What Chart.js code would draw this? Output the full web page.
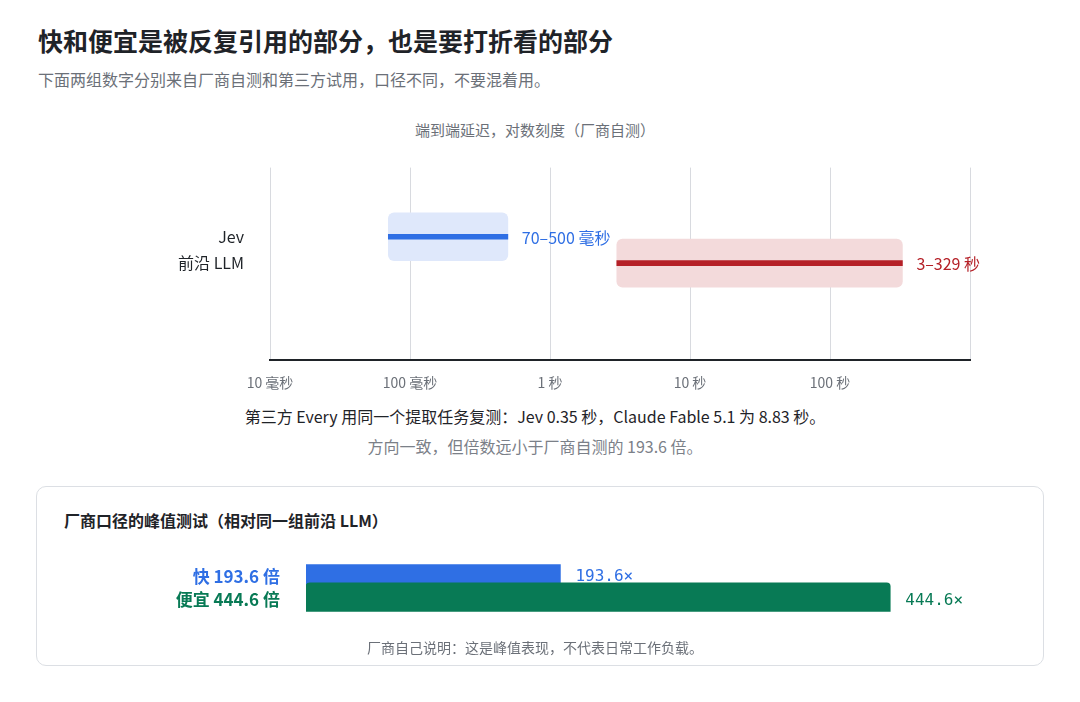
<!DOCTYPE html>
<html><head><meta charset="utf-8">
<script src="https://cdn.jsdelivr.net/npm/chart.js@4/dist/chart.umd.min.js"></script>
<style>
body{margin:0;width:1080px;height:702px;background:#fff;font-family:"Noto Sans CJK SC","Noto Sans",sans-serif;position:relative;overflow:hidden}
.t{position:absolute;white-space:nowrap}
#c1{position:absolute;left:0;top:140px}
#c2{position:absolute;left:0;top:536px}
.card{position:absolute;left:36px;top:486px;width:1006px;height:178px;border:1.5px solid #dcdfe4;border-radius:10px}
</style></head><body>
<div class="t" style="left:38px;top:22px;font-size:25px;font-weight:700;color:#1f2328">快和便宜是被反复引用的部分，也是要打折看的部分</div>
<div class="t" style="left:38px;top:67px;font-size:16px;color:#6b7078">下面两组数字分别来自厂商自测和第三方试用，口径不同，不要混着用。</div>
<div class="t" style="left:0;width:1070px;text-align:center;top:119px;font-size:15px;color:#6b7078">端到端延迟，对数刻度（厂商自测）</div>
<canvas id="c1" width="1080" height="260"></canvas>
<div class="t" style="left:0;width:1070px;text-align:center;top:404px;font-size:16px;color:#1f2328">第三方 Every 用同一个提取任务复测：Jev 0.35 秒，Claude Fable 5.1 为 8.83 秒。</div>
<div class="t" style="left:0;width:1070px;text-align:center;top:434px;font-size:16px;color:#7b8088">方向一致，但倍数远小于厂商自测的 193.6 倍。</div>
<div class="card"></div>
<div class="t" style="left:64px;top:508px;font-size:16px;font-weight:700;color:#1f2328">厂商口径的峰值测试（相对同一组前沿 LLM）</div>
<canvas id="c2" width="1080" height="104"></canvas>
<div class="t" style="left:0;width:1070px;text-align:center;top:637px;font-size:14px;color:#6b7078">厂商自己说明：这是峰值表现，不代表日常工作负载。</div>
<script>
// 延迟（秒）
const latencyRows = ["Jev", "前沿 LLM"];
const latencyMin = [0.07, 3];
const latencyMax = [0.5, 329];
const latencyLabels = ["70–500 毫秒", "3–329 秒"];
const latencyTicks = {0.01: "10 毫秒", 0.1: "100 毫秒", 1: "1 秒", 10: "10 秒", 100: "100 秒"};
// 峰值倍数
const speedRows = ["快 193.6 倍", "便宜 444.6 倍"];
const speedValues = [193.6, 444.6];

const lineColors = ["#2f6fe4", "#b52027"];
const bandColors = ["#dfe8fb", "#f3dadb"];
const barColors = ["#2f6fe4", "#087a55"];

const rangeData = latencyRows.map((r, i) => ({y: i + 1, x: [latencyMin[i], latencyMax[i]]}));

new Chart(document.getElementById("c1"), {
    type: "bar",
    data: {
        datasets: [
            {data: rangeData, backgroundColor: bandColors, barThickness: 48, borderRadius: 6, borderSkipped: false, grouped: false, order: 2},
            {data: rangeData, backgroundColor: lineColors, barThickness: 5, grouped: false, order: 1},
        ],
    },
    options: {
        indexAxis: "y",
        responsive: false,
        animation: false,
        layout: {padding: {top: 15, right: 110}},
        plugins: {legend: {display: false}, tooltip: {enabled: false}},
        scales: {
            x: {
                type: "logarithmic", min: 0.01, max: 1000,
                afterFit: (a) => { a.height = 40; },
                afterBuildTicks: (a) => { a.ticks = [0.01, 0.1, 1, 10, 100, 1000].map(v => ({value: v})); },
                ticks: {padding: 14, color: "#6b7078", font: {size: 14, family: "Noto Sans CJK SC"},
                    callback: (v) => latencyTicks[v] || ""},
                grid: {color: "#d8dadf", drawTicks: false},
                border: {color: "#1f2328", width: 2},
            },
            y: {
                type: "linear", reverse: true, min: 0.2, max: 3.85,
                afterFit: (a) => { a.width = 270; },
                afterBuildTicks: (a) => { a.ticks = [{value: 1}, {value: 2}]; },
                ticks: {padding: 18, color: "#1f2328", font: {size: 16, family: "Noto Sans CJK SC"},
                    callback: (v) => latencyRows[v - 1] || ""},
                grid: {display: false}, border: {display: false},
            },
        },
    },
    plugins: [{
        id: "rangeLabels",
        afterDatasetsDraw(chart) {
            const c = chart.ctx, xs = chart.scales.x, ys = chart.scales.y;
            c.save();
            c.font = "16px 'Noto Sans CJK SC'";
            c.textBaseline = "middle";
            latencyRows.forEach((r, i) => {
                c.fillStyle = lineColors[i];
                c.fillText(latencyLabels[i], xs.getPixelForValue(latencyMax[i]) + 14, ys.getPixelForValue(i + 1) + 1);
            });
            c.restore();
        },
    }],
});

new Chart(document.getElementById("c2"), {
    type: "bar",
    data: {labels: speedRows, datasets: [{data: speedValues, backgroundColor: barColors, barThickness: 34, borderRadius: 4, borderSkipped: false}]},
    options: {
        indexAxis: "y",
        responsive: false,
        animation: false,
        plugins: {legend: {display: false}, tooltip: {enabled: false}},
        scales: {
            x: {display: false, min: 0, max: 589},
            y: {
                afterFit: (a) => { a.width = 306; },
                ticks: {padding: 18, color: (ctx) => barColors[ctx.index],
                    font: {size: 17, weight: "bold", family: "Noto Sans CJK SC"}},
                grid: {display: false}, border: {display: false},
            },
        },
    },
    plugins: [{
        id: "valueLabels",
        afterDatasetsDraw(chart) {
            const c = chart.ctx, xs = chart.scales.x, ys = chart.scales.y;
            c.save();
            c.font = "16px 'DejaVu Sans Mono'";
            c.textBaseline = "middle";
            speedValues.forEach((v, i) => {
                c.fillStyle = barColors[i];
                c.fillText(v + "×", xs.getPixelForValue(v) + 15, ys.getPixelForValue(i) + 1);
            });
            c.restore();
        },
    }],
});
</script>
</body></html>
